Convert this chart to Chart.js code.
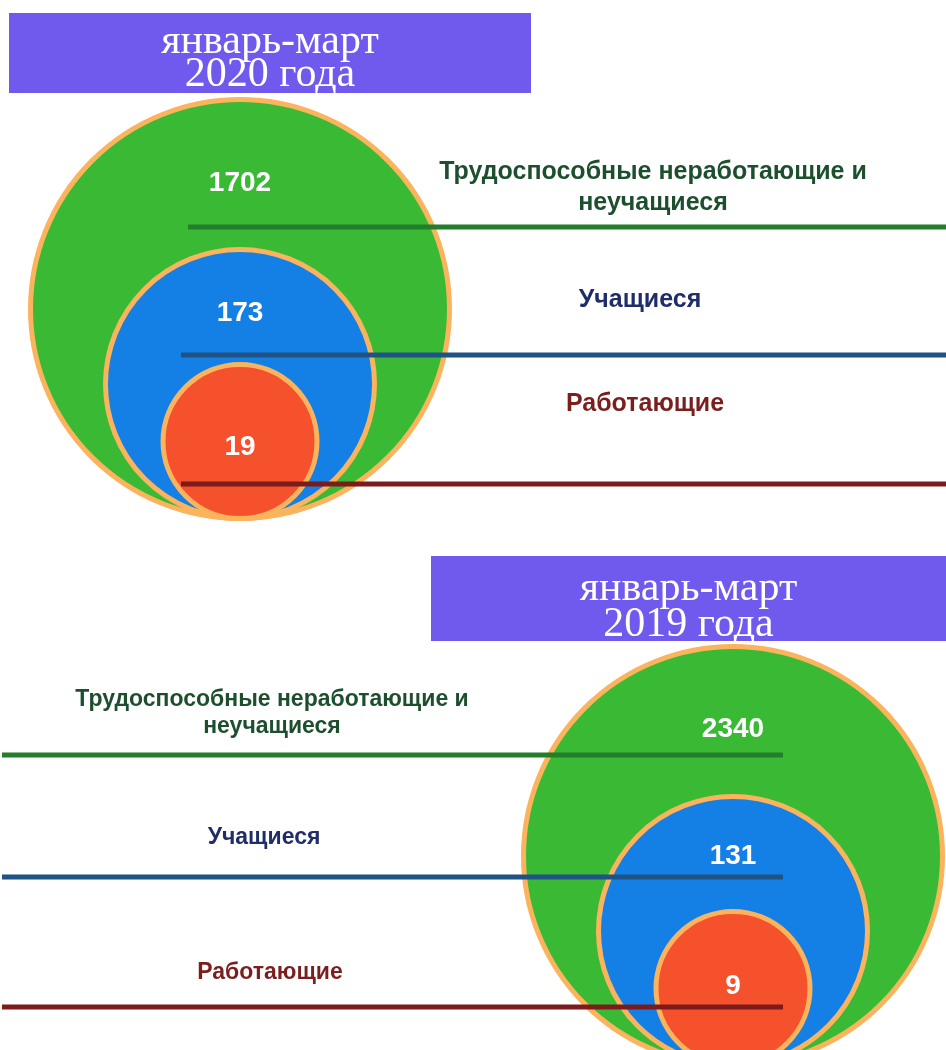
<!DOCTYPE html>
<html>
<head>
<meta charset="utf-8">
<script src="https://cdn.jsdelivr.net/npm/chart.js@4"></script>
<style>
    body { margin: 0; background: #fff; }
    #wrap { position: relative; width: 946px; height: 1050px; overflow: hidden; }
    #chart { position: absolute; left: 0; top: 0; }
    .title {
        position: absolute;
        background: #705aee;
        color: #fff;
        font-family: "Liberation Serif", "Times New Roman", serif;
        font-size: 42px;
        line-height: 33px;
        text-align: center;
        box-sizing: border-box;
        padding-top: 10px;
    }
</style>
</head>
<body>
<div id="wrap">
    <canvas id="chart" width="946" height="1050"></canvas>
    <div class="title" id="title0" style="left:9px; top:13px; width:522px; height:80px;"></div>
    <div class="title" id="title1" style="left:431px; top:556px; width:515px; height:85px; padding-top:12px; line-height:36px;"></div>
</div>
<script>
// data
const periods = [['январь-март', '2020 года'], ['январь-март', '2019 года']]
const categories = [['Трудоспособные неработающие и', 'неучащиеся'], ['Учащиеся'], ['Работающие']]
const values2020 = [1702, 173, 19]
const values2019 = [2340, 131, 9]

// styles
const fillColors = ['#3aba34', '#1480e6', '#f5512c']
const lineColors = ['#237d2b', '#1f5383', '#7c1b1b']
const textColors = ['#1d4f2f', '#1f2d68', '#7a1e1e']
const ringColor = '#fbb45d'
const ringRadius = [209.5, 134.5, 77]

// layout of the two groups (pixels of the page)
const groups = [
    {
        values: values2020,
        cx: 240, base: 521,
        valueY: [183, 313, 447],
        labelX: [653, 640, 645], labelY: [172, 300, 404], labelFont: 25, labelGap: 31,
        lineY: [227, 355, 484], lineFrom: [188, 181, 181], lineTo: [946, 946, 946]
    },
    {
        values: values2019,
        cx: 733, base: 1068,
        valueY: [729, 856, 986],
        labelX: [272, 264, 270], labelY: [700, 838, 973], labelFont: 23, labelGap: 27,
        lineY: [755, 877, 1007], lineFrom: [2, 2, 2], lineTo: [783, 783, 783]
    }
]

periods.forEach(function(p, i) {
    document.getElementById('title' + i).innerHTML = p.join('<br>')
})

function buildCircles(group) {
    return group.values.map(function(v, i) {
        return {x: group.cx, y: group.base - ringRadius[i] - 2.5, value: v}
    })
}

function buildLines() {
    const result = []
    groups.forEach(function(group) {
        group.lineY.forEach(function(y, i) {
            result.push({
                type: 'line',
                data: [{x: group.lineFrom[i], y: y}, {x: group.lineTo[i], y: y}],
                borderColor: lineColors[i],
                borderWidth: 5,
                pointRadius: 0,
                order: 0
            })
        })
    })
    return result
}

const labelsPlugin = {
    id: 'labels',
    afterDatasetsDraw(chart) {
        const ctx = chart.ctx
        const xs = chart.scales.x
        const ys = chart.scales.y
        ctx.save()
        ctx.textAlign = 'center'
        ctx.textBaseline = 'middle'
        groups.forEach(function(group) {
            // values inside circles
            ctx.fillStyle = '#fff'
            ctx.font = 'bold 28px "Liberation Sans", Arial, sans-serif'
            group.values.forEach(function(v, i) {
                ctx.fillText(String(v), xs.getPixelForValue(group.cx), ys.getPixelForValue(group.valueY[i]))
            })
            // category captions
            ctx.font = 'bold ' + group.labelFont + 'px "Liberation Sans", Arial, sans-serif'
            categories.forEach(function(lines, i) {
                ctx.fillStyle = textColors[i]
                lines.forEach(function(line, k) {
                    const y = group.labelY[i] + k * group.labelGap
                    ctx.fillText(line, xs.getPixelForValue(group.labelX[i]), ys.getPixelForValue(y))
                })
            })
        })
        ctx.restore()
    }
}

document.addEventListener('DOMContentLoaded', function() {
    const canvas = document.getElementById('chart').getContext('2d')
    const circleSets = groups.map(function(group) {
        return {
            type: 'bubble',
            data: buildCircles(group),
            backgroundColor: fillColors,
            borderColor: ringColor,
            borderWidth: 5,
            radius: function(c) { return ringRadius[c.dataIndex] },
            order: 1
        }
    })
    new Chart(canvas, {
        type: 'bubble',
        data: {
            datasets: buildLines().concat(circleSets)
        },
        options: {
            responsive: false,
            animation: false,
            events: [],
            layout: { padding: 0, autoPadding: false },
            plugins: {
                legend: { display: false },
                tooltip: { enabled: false }
            },
            scales: {
                x: { type: 'linear', min: 0, max: 946, display: false },
                y: { type: 'linear', min: 0, max: 1050, reverse: true, display: false }
            }
        },
        plugins: [labelsPlugin]
    })
})
</script>
</body>
</html>
